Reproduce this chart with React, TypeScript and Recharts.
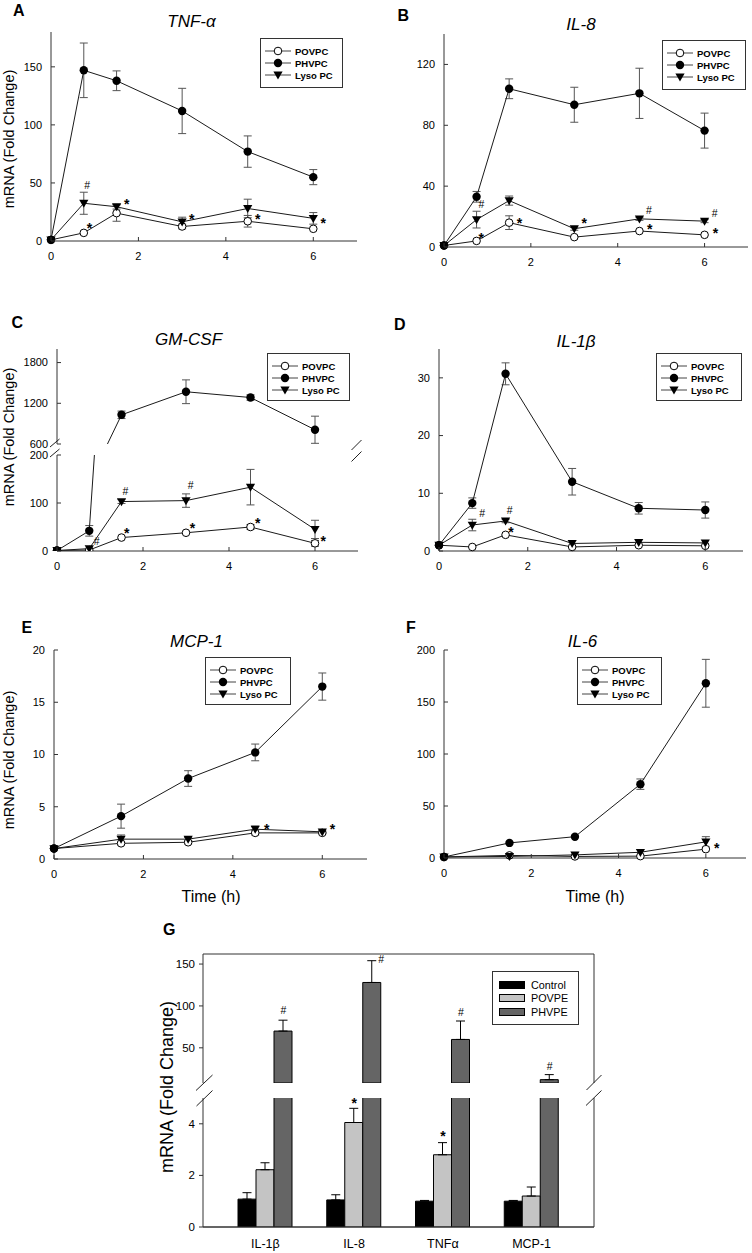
import {
  ComposedChart,
  Line,
  Bar,
  Scatter,
  XAxis,
  YAxis,
  ErrorBar,
  Legend,
  CartesianGrid,
} from 'recharts'

const FONT = '"Liberation Sans", Arial, Helvetica, sans-serif'
const AXIS = '#333'
const INK = '#1a1a1a'
const ERR = '#555'

// time points (h)
const T6 = [0, 0.75, 1.5, 3, 4.5, 6]
const T5 = [0, 1.5, 3, 4.5, 6]
const X_TICKS = [0, 2, 4, 6]

// A  TNF-α
const tnfPov = [1, 7, 24, 12.5, 17, 10.5]
const tnfPovErr = [0, 0, 7, 2, 5, 0]
const tnfPhv = [1, 147, 138, 112, 77, 55]
const tnfPhvErr = [0, 23.5, 8.5, 19.5, 13.5, 6.5]
const tnfLyso = [1, 32.5, 29.5, 16.5, 28, 19.5]
const tnfLysoErr = [0, 9.5, 2, 4, 8, 5]

// B  IL-8
const il8Pov = [1, 4, 16, 6.5, 10.5, 8]
const il8PovErr = [0, 0, 4.5, 0, 0, 0]
const il8Phv = [1, 33, 104, 93.5, 101, 76.5]
const il8PhvErr = [0, 3.5, 6.5, 11.5, 16.5, 11.5]
const il8Lyso = [1, 18, 30.5, 12, 18.5, 17]
const il8LysoErr = [0, 5.5, 3, 1, 1, 1]

// C  GM-CSF (broken axis)
const gmPov = [1, 2, 28, 38, 50, 16]
const gmPovErr = [0, 0, 0, 0, 5, 6]
const gmPhv = [1, 42, 1030, 1370, 1285, 810]
const gmPhvErr = [0, 11, 55, 175, 40, 200]
const gmLyso = [1, 5, 103, 105, 133, 45]
const gmLysoErr = [0, 0, 4, 14, 37, 19]

// D  IL-1β
const il1Pov = [1, 0.7, 2.8, 0.7, 1.0, 0.9]
const il1PovErr = [0, 0, 0, 0, 0, 0]
const il1Phv = [1, 8.3, 30.7, 12, 7.4, 7.1]
const il1PhvErr = [0, 0.9, 1.9, 2.3, 1, 1.4]
const il1Lyso = [1, 4.5, 5.2, 1.3, 1.5, 1.4]
const il1LysoErr = [0, 1, 0.3, 0, 0, 0]

// E  MCP-1
const mcpPov = [1, 1.5, 1.6, 2.5, 2.5]
const mcpPovErr = [0, 0.15, 0.15, 0.2, 0.1]
const mcpPhv = [1, 4.1, 7.7, 10.2, 16.5]
const mcpPhvErr = [0, 1.15, 0.75, 0.8, 1.3]
const mcpLyso = [1, 1.9, 1.9, 2.85, 2.6]
const mcpLysoErr = [0, 0.4, 0.15, 0.3, 0.1]

// F  IL-6
const il6Pov = [1, 2.5, 1.5, 1.8, 8.5]
const il6PovErr = [0, 0, 0, 0, 0]
const il6Phv = [1, 14.5, 20.5, 71, 168]
const il6PhvErr = [0, 0, 0, 5, 23]
const il6Lyso = [1, 1.5, 3, 5.5, 15.5]
const il6LysoErr = [0, 0, 0, 0, 5]

// significance marks (time, value)
const tnfMarks = [
  { t: 0.83, v: 48, s: '#' },
  { t: 0.88, v: 14, s: '*' },
  { t: 1.73, v: 34.5, s: '*' },
  { t: 3.22, v: 21.5, s: '*' },
  { t: 4.73, v: 21.5, s: '*' },
  { t: 6.23, v: 18, s: '*' },
]
const il8Marks = [
  { t: 0.86, v: 28, s: '#' },
  { t: 0.86, v: 7.7, s: '*' },
  { t: 1.74, v: 17.6, s: '*' },
  { t: 3.23, v: 17.6, s: '*' },
  { t: 4.72, v: 24.2, s: '#' },
  { t: 4.74, v: 13.7, s: '*' },
  { t: 6.23, v: 22, s: '#' },
  { t: 6.25, v: 11.5, s: '*' },
]
const gmMarks = [
  { t: 0.92, v: 19.5, s: '#' },
  { t: 1.59, v: 124, s: '#' },
  { t: 3.11, v: 138, s: '#' },
  { t: 1.62, v: 45, s: '*' },
  { t: 3.15, v: 54, s: '*' },
  { t: 4.67, v: 65, s: '*' },
  { t: 6.19, v: 26.6, s: '*' },
]
const il1Marks = [
  { t: 0.97, v: 6.5, s: '#' },
  { t: 1.59, v: 7.1, s: '#' },
  { t: 1.62, v: 3.9, s: '*' },
]
const mcpMarks = [
  { t: 4.76, v: 3.2, s: '*' },
  { t: 6.23, v: 3.2, s: '*' },
]
const il6Marks = [{ t: 6.25, v: 12.8, s: '*' }]

// G  bar panel
const gGenes = ['IL-1β', 'IL-8', 'TNFα', 'MCP-1']
const gCtrl = [1.08, 1.05, 1.0, 1.0]
const gCtrlErr = [0.25, 0.2, 0.03, 0.03]
const gPove = [2.22, 4.05, 2.8, 1.2]
const gPoveErr = [0.27, 0.55, 0.47, 0.35]
const gPhve = [70, 128, 60, 12]
const gPhveErr = [13, 26, 22, 6]
const gHash = [95, 156, 92, 28]
const gStar = [null, 4.94, 3.65, null]

interface Row {
  t: number
  pov: number
  povE: number
  phv: number
  phvE: number
  lyso: number
  lysoE: number
}

const build = (
  t: number[], pov: number[], povE: number[], phv: number[], phvE: number[], lyso: number[], lysoE: number[],
): Row[] =>
  t.map((x, i) => ({ t: x, pov: pov[i], povE: povE[i], phv: phv[i], phvE: phvE[i], lyso: lyso[i], lysoE: lysoE[i] }))

const tnfRows = build(T6, tnfPov, tnfPovErr, tnfPhv, tnfPhvErr, tnfLyso, tnfLysoErr)
const il8Rows = build(T6, il8Pov, il8PovErr, il8Phv, il8PhvErr, il8Lyso, il8LysoErr)
const gmRows = build(T6, gmPov, gmPovErr, gmPhv, gmPhvErr, gmLyso, gmLysoErr)
const il1Rows = build(T6, il1Pov, il1PovErr, il1Phv, il1PhvErr, il1Lyso, il1LysoErr)
const mcpRows = build(T5, mcpPov, mcpPovErr, mcpPhv, mcpPhvErr, mcpLyso, mcpLysoErr)
const il6Rows = build(T5, il6Pov, il6PovErr, il6Phv, il6PhvErr, il6Lyso, il6LysoErr)

const gHashMarks = gGenes.map((name, i) => ({ name, v: gHash[i], s: '#', bar: 'phve', side: name === 'IL-8' }))
const gStarMarks = gGenes
  .map((name, i) => ({ name, v: gStar[i], s: '*', bar: 'pove', side: false }))
  .filter((m) => m.v != null)

// ---------- shapes ----------
const openDot = (p: any) => (
  <circle key={`o${p.index}`} cx={p.cx} cy={p.cy} r={3.8} fill="#fff" stroke="#000" strokeWidth={1} />
)
const fillDot = (p: any) => <circle key={`f${p.index}`} cx={p.cx} cy={p.cy} r={4.2} fill="#000" />
const triDot = (p: any) => (
  <polygon
    key={`t${p.index}`}
    points={`${p.cx - 4.6},${p.cy - 3.4} ${p.cx + 4.6},${p.cy - 3.4} ${p.cx},${p.cy + 4.6}`}
    fill="#000"
  />
)

const markText = (x: number, y: number, s: string) => {
  const star = s === '*'
  return (
    <text
      x={x}
      y={y}
      dy={star ? '0.58em' : '0.36em'}
      textAnchor="middle"
      fontSize={star ? 14 : 10.5}
      fontWeight={star ? 700 : 400}
      fontFamily={FONT}
      fill="#000"
    >
      {s}
    </text>
  )
}
const markShape = (p: any) => markText(p.cx, p.cy, p.payload.s)

const XTick = ({ x, y, payload }: any) => (
  <g>
    <line x1={x} x2={x} y1={y - 15} y2={y - 19} stroke={AXIS} />
    <text x={x} y={y} dy="0.35em" textAnchor="middle" fontSize={11} fontFamily={FONT} fill="#000">
      {payload.value}
    </text>
  </g>
)
const YTick = ({ x, y, payload }: any) => (
  <g>
    <line x1={x + 9} x2={x + 13} y1={y} y2={y} stroke={AXIS} />
    <text x={x} y={y} dy="0.35em" textAnchor="end" fontSize={11} fontFamily={FONT} fill="#000">
      {payload.value}
    </text>
  </g>
)

const LINE_KEYS = [
  { name: 'POVPC', dot: openDot },
  { name: 'PHVPC', dot: fillDot },
  { name: 'Lyso PC', dot: triDot },
]

function LineKey() {
  return (
    <div
      style={{
        width: '100%', height: '100%', boxSizing: 'border-box', border: `1px solid ${AXIS}`,
        background: '#fff', paddingTop: 6, paddingLeft: 4,
      }}
    >
      {LINE_KEYS.map((k) => (
        <div key={k.name} style={{ display: 'flex', alignItems: 'center', height: 12.2 }}>
          <svg width={26} height={12} style={{ display: 'block' }}>
            <line x1={0} x2={26} y1={6} y2={6} stroke="#444" />
            {k.dot({ cx: 13, cy: 6, index: 0 })}
          </svg>
          <span style={{ marginLeft: 4, fontFamily: FONT, fontSize: 9.5, fontWeight: 700, color: '#000' }}>{k.name}</span>
        </div>
      ))}
    </div>
  )
}

const G_KEYS = [
  { name: 'Control', fill: '#000' },
  { name: 'POVPE', fill: '#c4c4c4' },
  { name: 'PHVPE', fill: '#656565' },
]

function BarKey() {
  return (
    <div
      style={{
        width: '100%', height: '100%', boxSizing: 'border-box', border: `1px solid ${AXIS}`,
        background: '#fff', paddingTop: 6, paddingLeft: 6,
      }}
    >
      {G_KEYS.map((k) => (
        <div key={k.name} style={{ display: 'flex', alignItems: 'center', height: 13.5 }}>
          <div style={{ width: 26, height: 8, background: k.fill, border: '1px solid #000', boxSizing: 'border-box' }} />
          <span style={{ marginLeft: 6, fontFamily: FONT, fontSize: 10.8, color: '#000' }}>{k.name}</span>
        </div>
      ))}
    </div>
  )
}

// ---------- panels ----------
const YW = 48
const MT = 6
const MR = 6
const XH = 30

interface Box { l: number; r: number; t: number; b: number }
interface KeyPos { x: number; y: number; w: number; h: number }

interface SegProps {
  box: Box
  xMax: number
  yDomain: [number, number]
  yTicks: number[]
  rows: Row[]
  marks?: { t: number; v: number; s: string }[]
  showX?: boolean
  showTop?: boolean
  clip?: boolean
  legend?: KeyPos
}

function Seg({ box, xMax, yDomain, yTicks, rows, marks = [], showX = true, showTop = true, clip = false, legend }: SegProps) {
  const [y0, y1] = yDomain
  const inside = (v: number) => v >= y0 && v <= y1
  const data = rows.map((r) => ({
    ...r,
    povE: inside(r.pov) ? r.povE : 0,
    phvE: inside(r.phv) ? r.phvE : 0,
    lysoE: inside(r.lyso) ? r.lysoE : 0,
  }))
  const mb = showX ? 0 : 6
  const w = box.r - box.l + YW + MR
  const h = box.b - box.t + MT + (showX ? XH : mb)
  return (
    <div style={{ position: 'absolute', left: box.l - YW, top: box.t - MT }}>
      <ComposedChart width={w} height={h} data={data} margin={{ top: MT, right: MR, bottom: mb, left: 0 }}>
        <XAxis
          dataKey="t"
          type="number"
          domain={[0, xMax]}
          ticks={X_TICKS}
          interval={0}
          hide={!showX}
          height={XH}
          stroke={AXIS}
          tickLine={false}
          tickSize={0}
          tickMargin={15}
          tick={(p: any) => <XTick {...p} />}
        />
        {showTop && (
          <XAxis xAxisId="top" orientation="top" type="number" domain={[0, 1]} height={0} tick={false} tickLine={false} stroke={AXIS} />
        )}
        <YAxis
          type="number"
          domain={yDomain}
          ticks={yTicks}
          interval={0}
          allowDataOverflow={clip}
          width={YW}
          stroke={AXIS}
          tickLine={false}
          tickSize={0}
          tickMargin={9}
          tick={(p: any) => <YTick {...p} />}
        />
        <YAxis yAxisId="right" orientation="right" type="number" domain={[0, 1]} width={0} tick={false} tickLine={false} stroke={AXIS} />
        <Line dataKey="pov" stroke={INK} strokeWidth={1} dot={openDot} activeDot={false} isAnimationActive={false}>
          <ErrorBar dataKey="povE" direction="y" width={4} stroke={ERR} strokeWidth={1} />
        </Line>
        <Line dataKey="phv" stroke={INK} strokeWidth={1} dot={fillDot} activeDot={false} isAnimationActive={false}>
          <ErrorBar dataKey="phvE" direction="y" width={4} stroke={ERR} strokeWidth={1} />
        </Line>
        <Line dataKey="lyso" stroke={INK} strokeWidth={1} dot={triDot} activeDot={false} isAnimationActive={false}>
          <ErrorBar dataKey="lysoE" direction="y" width={4} stroke={ERR} strokeWidth={1} />
        </Line>
        {marks.length > 0 && <Scatter data={marks} dataKey="v" shape={markShape} isAnimationActive={false} />}
        {legend && (
          <Legend
            layout="vertical"
            align="center"
            verticalAlign="middle"
            wrapperStyle={{ left: legend.x - box.l + YW, top: legend.y - box.t + MT, width: legend.w, height: legend.h }}
            content={() => <LineKey />}
          />
        )}
      </ComposedChart>
    </div>
  )
}

const BAR = 18

const gMarkShape = (p: any) => {
  const dx = (p.payload.bar === 'phve' ? BAR : 0) + (p.payload.side ? 9 : 0)
  return markText(p.cx + dx, p.cy, p.payload.s)
}

function GSeg({ box, yDomain, yTicks, upper }: { box: Box; yDomain: [number, number]; yTicks: number[]; upper: boolean }) {
  const [y0, y1] = yDomain
  const cut = (v: number) => (v >= y0 ? v : null)
  const err = (v: number, e: number) => (v >= y0 && v <= y1 ? [0, e] : null)
  const data = gGenes.map((name, i) => ({
    name,
    ctrl: cut(gCtrl[i]),
    ctrlE: err(gCtrl[i], gCtrlErr[i]),
    pove: cut(gPove[i]),
    poveE: err(gPove[i], gPoveErr[i]),
    phve: cut(gPhve[i]),
    phveE: err(gPhve[i], gPhveErr[i]),
  }))
  const marks = upper ? gHashMarks : gStarMarks
  const mb = upper ? 6 : 0
  const w = box.r - box.l + YW + MR
  const h = box.b - box.t + MT + (upper ? mb : XH)
  const tickStyle = { fontSize: 11.5, fill: '#000', fontFamily: FONT }
  return (
    <div style={{ position: 'absolute', left: box.l - YW, top: box.t - MT }}>
      <ComposedChart width={w} height={h} data={data} barGap={0} margin={{ top: MT, right: MR, bottom: mb, left: 0 }}>
        {/* frame: top edge (upper part) / bottom edge (lower part) and the right edge */}
        <CartesianGrid
          stroke={AXIS}
          strokeDasharray=""
          horizontalCoordinatesGenerator={({ offset }: any) => [upper ? offset.top : offset.top + offset.height]}
          verticalCoordinatesGenerator={({ offset }: any) => [offset.left + offset.width]}
        />
        <XAxis
          dataKey="name"
          type="category"
          allowDuplicatedCategory={false}
          padding={{ left: 18, right: 18 }}
          interval={0}
          hide={upper}
          height={XH}
          stroke={AXIS}
          tickLine={false}
          tickSize={0}
          tickMargin={12}
          tick={{ ...tickStyle, fontSize: 12.5 }}
        />
        <YAxis
          type="number"
          domain={yDomain}
          ticks={yTicks}
          interval={0}
          allowDataOverflow
          width={YW}
          stroke={AXIS}
          tickLine={{ stroke: AXIS }}
          tickSize={4}
          tickMargin={4}
          tick={tickStyle}
        />
        <YAxis yAxisId="ann" type="number" domain={yDomain} hide />
        <Bar dataKey="ctrl" barSize={BAR} fill="#000" stroke="#000" strokeWidth={1} isAnimationActive={false}>
          <ErrorBar dataKey="ctrlE" direction="y" width={4.5} stroke="#000" strokeWidth={1} />
        </Bar>
        <Bar dataKey="pove" barSize={BAR} fill="#c4c4c4" stroke="#000" strokeWidth={1} isAnimationActive={false}>
          <ErrorBar dataKey="poveE" direction="y" width={4.5} stroke="#000" strokeWidth={1} />
        </Bar>
        <Bar dataKey="phve" barSize={BAR} fill="#656565" stroke="#000" strokeWidth={1} isAnimationActive={false}>
          <ErrorBar dataKey="phveE" direction="y" width={4.5} stroke="#000" strokeWidth={1} />
        </Bar>
        <Scatter yAxisId="ann" data={marks} dataKey="v" shape={gMarkShape} isAnimationActive={false} />
        {upper && (
          <Legend
            layout="vertical"
            align="center"
            verticalAlign="middle"
            wrapperStyle={{ left: 492 - box.l + YW, top: 971 - box.t + MT, width: 87, height: 54 }}
            content={() => <BarKey />}
          />
        )}
      </ComposedChart>
    </div>
  )
}

function Overlay() {
  const letter = { fontFamily: FONT, fontSize: 16, fontWeight: 700, fill: '#000' }
  const title = { fontFamily: FONT, fontSize: 17, fontStyle: 'italic', textAnchor: 'middle' as const, fill: '#000' }
  const ylab = { fontFamily: FONT, fontSize: 14.5, textAnchor: 'middle' as const, dominantBaseline: 'central' as const, fill: '#000' }
  const brk = { stroke: '#222', strokeWidth: 1 }
  return (
    <svg width={752} height={1253} style={{ position: 'absolute', left: 0, top: 0, pointerEvents: 'none' }}>
      <text x={13} y={15.5} {...letter}>A</text>
      <text x={397.5} y={20.5} {...letter}>B</text>
      <text x={11.5} y={327.5} {...letter}>C</text>
      <text x={394} y={330} {...letter}>D</text>
      <text x={21.5} y={633} {...letter}>E</text>
      <text x={406} y={633} {...letter}>F</text>
      <text x={163} y={935} {...letter}>G</text>

      <text x={191.5} y={26.5} {...title}>TNF-α</text>
      <text x={581} y={30} {...title}>IL-8</text>
      <text x={188.5} y={345} {...title}>GM-CSF</text>
      <text x={576} y={346.5} {...title}>IL-1β</text>
      <text x={196.5} y={646.5} {...title}>MCP-1</text>
      <text x={582.5} y={646.5} {...title}>IL-6</text>

      <text transform="translate(9,139) rotate(-90)" {...ylab}>mRNA (Fold Change)</text>
      <text transform="translate(9,437) rotate(-90)" {...ylab}>mRNA (Fold Change)</text>
      <text transform="translate(9,760) rotate(-90)" {...ylab}>mRNA (Fold Change)</text>
      <text transform="translate(167,1087) rotate(-90)" {...ylab} fontSize={18}>mRNA (Fold Change)</text>

      <text x={211} y={902} fontFamily={FONT} fontSize={16} textAnchor="middle">Time (h)</text>
      <text x={595} y={902} fontFamily={FONT} fontSize={16} textAnchor="middle">Time (h)</text>

      {/* axis breaks */}
      <line x1={50} y1={447} x2={59.5} y2={439} {...brk} />
      <line x1={50} y1={457} x2={59.5} y2={449} {...brk} />
      <line x1={351.5} y1={450} x2={361.5} y2={440} {...brk} />
      <line x1={351.5} y1={461.5} x2={361.5} y2={451.5} {...brk} />
      <line x1={196} y1={1090.5} x2={212.5} y2={1075} {...brk} />
      <line x1={196.5} y1={1106} x2={212.5} y2={1090.5} {...brk} />
      <line x1={586.5} y1={1090} x2={601.5} y2={1075} {...brk} />
      <line x1={586} y1={1105.5} x2={601.5} y2={1090.5} {...brk} />
    </svg>
  )
}

export default function App() {
  return (
    <div
      style={{
        position: 'absolute', left: 0, top: 0, width: 752, height: 1253,
        overflow: 'hidden', background: '#fff', fontFamily: FONT,
      }}
    >
      <Seg box={{ l: 51, r: 357, t: 32, b: 241 }} xMax={7} yDomain={[0, 180]} yTicks={[0, 50, 100, 150]}
        rows={tnfRows} marks={tnfMarks} legend={{ x: 260, y: 38, w: 83, h: 50 }} />
      <Seg box={{ l: 444, r: 748, t: 34, b: 247 }} xMax={7} yDomain={[0, 140]} yTicks={[0, 40, 80, 120]}
        rows={il8Rows} marks={il8Marks} legend={{ x: 662, y: 40, w: 84, h: 50 }} />
      <Seg box={{ l: 57, r: 358, t: 349, b: 444 }} xMax={7} yDomain={[600, 2000]} yTicks={[600, 1200, 1800]}
        rows={gmRows} showX={false} clip legend={{ x: 267, y: 353, w: 83, h: 48 }} />
      <Seg box={{ l: 57, r: 358, t: 455, b: 551 }} xMax={7} yDomain={[0, 200]} yTicks={[0, 100, 200]}
        rows={gmRows} marks={gmMarks} showTop={false} clip />
      <Seg box={{ l: 439, r: 743, t: 349, b: 551 }} xMax={6.85} yDomain={[0, 35]} yTicks={[0, 10, 20, 30]}
        rows={il1Rows} marks={il1Marks} legend={{ x: 656, y: 353, w: 86, h: 48 }} />
      <Seg box={{ l: 54, r: 367, t: 650, b: 859 }} xMax={7} yDomain={[0, 20]} yTicks={[0, 5, 10, 15, 20]}
        rows={mcpRows} marks={mcpMarks} legend={{ x: 205, y: 657, w: 86, h: 48 }} />
      <Seg box={{ l: 444, r: 746, t: 650, b: 858 }} xMax={6.92} yDomain={[0, 200]} yTicks={[0, 50, 100, 150, 200]}
        rows={il6Rows} marks={il6Marks} legend={{ x: 577, y: 657, w: 85, h: 48 }} />
      <GSeg box={{ l: 203, r: 594, t: 954, b: 1083 }} yDomain={[8, 162]} yTicks={[50, 100, 150]} upper />
      <GSeg box={{ l: 203, r: 594, t: 1098, b: 1227 }} yDomain={[0, 5]} yTicks={[0, 2, 4]} upper={false} />
      <Overlay />
    </div>
  )
}
